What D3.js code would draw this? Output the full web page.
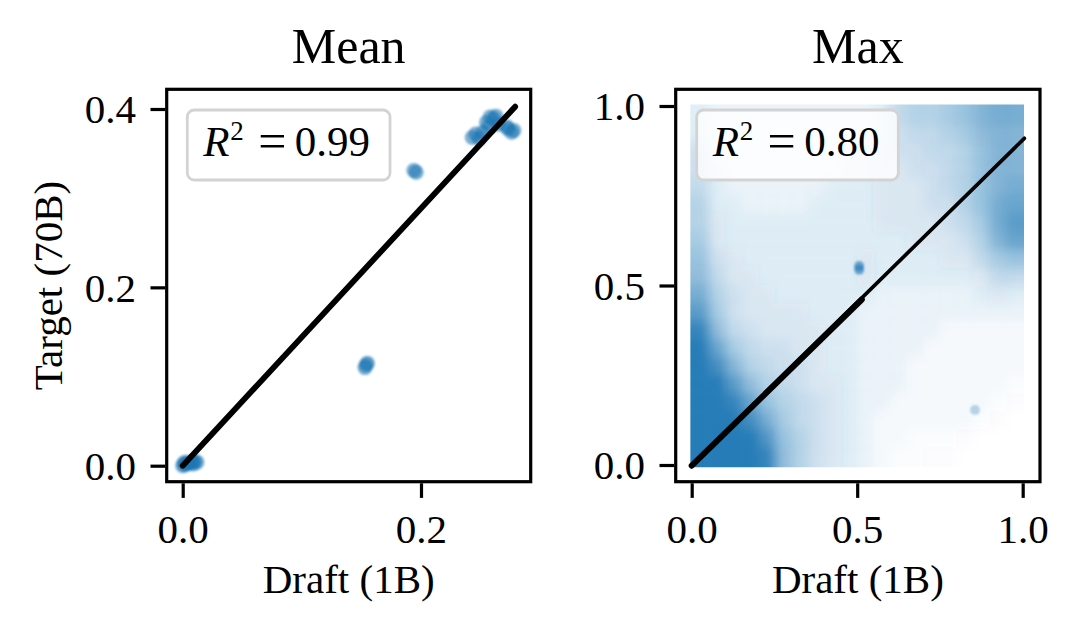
<!DOCTYPE html>
<html>
<head>
<meta charset="utf-8">
<script src="https://cdn.jsdelivr.net/npm/d3@7/dist/d3.min.js"></script>
<style>
  html, body { margin: 0; padding: 0; background: #fff; }
  svg { display: block; }
  text { font-family: "Liberation Serif", "Times New Roman", serif; fill: #000; }
</style>
</head>
<body>
<svg id="chart" width="1080" height="634"></svg>
<script>
// ---------------- DATA ----------------
// Panel 1: "Mean" — per-sample points (Draft 1B vs Target 70B)
const meanDraft  = [0.000, 0.002, 0.004, 0.006, 0.008, 0.010, 0.012, 0.003, 0.001, 0.009,
                    0.153, 0.154, 0.155,
                    0.194, 0.196,
                    0.243, 0.246, 0.249, 0.252, 0.255, 0.258, 0.261, 0.263, 0.257, 0.265,
                    0.272, 0.273, 0.276, 0.278];
const meanTarget = [0.000, 0.001, 0.002, 0.003, 0.004, 0.005, 0.004, 0.004, 0.003, 0.002,
                    0.110, 0.113, 0.115,
                    0.331, 0.329,
                    0.368, 0.372, 0.367, 0.374, 0.385, 0.391, 0.389, 0.392, 0.380, 0.383,
                    0.380, 0.378, 0.374, 0.376];
const meanFitX = [0.000, 0.279];
const meanFitY = [0.000, 0.4026];
const meanR2 = "0.99";

// Panel 2: "Max" — point density (0 = empty … 9 = solid)
// rows run from the top bin (target 0.95–1.00) down to the bottom bin (0.00–0.05)
const maxBinEdges = [0.00, 0.05, 0.10, 0.15, 0.20, 0.25, 0.30, 0.35, 0.40, 0.45, 0.50,
                     0.55, 0.60, 0.65, 0.70, 0.75, 0.80, 0.85, 0.90, 0.95, 1.00];
const maxDensity = [
  [1.5,1,1,1,1,1,1,1,1,1,1,1.5,3,3.5,3.5,4,4.5,5.5,6,6],
  [1.5,1,1,1,1,1,1,1,1,1,1,1.5,2.5,3,3,3.5,4,5,5.5,5.5],
  [2.5,1,1,1,1,1,1,1,1,1.5,1.5,2,2.5,2.5,3,3,3.5,4.5,5.5,5.5],
  [2.5,1.5,1,1,1,1,1,1,1,1.5,1.5,2,2,2.5,2.5,3,3.5,4.5,5.5,5.5],
  [3,1.5,1,1,1,1,1,1,1.5,1.5,1.5,2,2,2,2.5,3,3.5,4.5,5.5,6],
  [3.5,1.5,1.5,1,1,1,1,1.5,1.5,1.5,1.5,2,2,2,2.5,2.5,3.5,4.5,6,6.5],
  [3.5,2,1.5,1.5,1.5,1.5,1.5,1.5,1.5,1.5,1.5,2,2,2,2,2.5,3,4,6,7],
  [4,2,1.5,1.5,1.5,1.5,1.5,1.5,1.5,1.5,1.5,1.5,1.5,2,2,2,2.5,3.5,5.5,6.5],
  [4.5,2.5,2,1.5,1.5,1.5,1.5,1.5,1.5,1.5,2,1.5,1.5,1.5,1.5,2,2,3,4,4.5],
  [5,3,2,2,1.5,1.5,1.5,1.5,1.5,1.5,2,1.5,1.5,1.5,1.5,1.5,1.5,2,3,3],
  [6,3.5,2.5,2,2,1.5,1.5,1.5,1.5,1.5,1.5,1,1,1,1,1,1,1.5,2,1.5],
  [7,4,2.5,2,2,2,2,1.5,1.5,1.5,1,1,1,1,1,1,1,1,1,1],
  [8.5,5,3,2.5,2,2,2,2,1.5,1.5,1,1,1,1,1,0.5,0.5,0.5,0.5,0.5],
  [9,6.5,4,3,2.5,2.5,2,2,1.5,1.5,1,1,1,1,0.5,0.5,0.5,0.5,0.5,0.5],
  [9,8,5.5,3.5,3,2.5,2.5,2,1.5,1.5,1,1,1,0.5,0.5,0.5,0.5,0.5,0.5,0.5],
  [9,9,7,5,3.5,3,2.5,2,2,1.5,1,1,1,0.5,0.5,0.5,0.5,0.5,0.5,0.3],
  [9,9,8.5,6.5,4.5,3.5,3,2.5,2,1.5,1,1,0.5,0.5,0.5,0.5,0.5,0.5,0.3,0.2],
  [9,9,9,8,6,4,3,2.5,2,1.5,1,0.5,0.5,0.5,0.5,0.5,0.5,0.3,0.2,0],
  [9,9,9,9,7.5,4.5,3.5,2.5,2,1.5,1,0.5,0.5,0.3,0.3,0.3,0.2,0,0,0],
  [9,9,9,9,8.5,5,3.5,2.5,2,1.5,1,0.5,0.3,0.3,0.2,0.2,0,0,0,0]
];
const maxSpotX = [0.506, 0.506, 0.856];
const maxSpotY = [0.544, 0.554, 0.153];
const maxSpotAlpha = [0.6, 0.6, 0.3];
const maxFitX = [0.000, 1.005];          // thin full fit line
const maxFitY = [0.000, 0.910];
const maxFitThickX = [0.000, 0.514];     // thicker lower part
const maxFitThickY = [-0.002, 0.461];
const maxR2 = "0.80";

// ticks
const meanXTicks = [0.0, 0.2];
const meanYTicks = [0.0, 0.2, 0.4];
const maxXTicks  = [0.0, 0.5, 1.0];
const maxYTicks  = [0.0, 0.5, 1.0];

const titles = ["Mean", "Max"];
const xLabel = "Draft (1B)";
const yLabel = "Target (70B)";

// ---------------- DRAW ----------------
const svg = d3.select("#chart");
const blue = "#1f77b4";
const fmt = d3.format(".1f");
const TICK = 14.6, PAD = 14.6, LW = 3.2;
const FS = 41;

const defs = svg.append("defs");
defs.append("filter").attr("id", "soft")
  .attr("x", "-50%").attr("y", "-50%").attr("width", "200%").attr("height", "200%")
  .append("feGaussianBlur").attr("stdDeviation", 0.9);
defs.append("filter").attr("id", "dens")
  .attr("filterUnits", "userSpaceOnUse")
  .attr("x", 600).attr("y", 0).attr("width", 480).attr("height", 634)
  .append("feGaussianBlur").attr("stdDeviation", 5.5);

// Panel geometry
const P1 = {left: 166.7, right: 530.7, top: 89.3, bottom: 481.7};
const P2 = {left: 675.7, right: 1040.0, top: 89.3, bottom: 481.7};

const x1 = d3.scaleLinear().domain([-0.01343, 0.29207]).range([P1.left, P1.right]);
const y1 = d3.scaleLinear().domain([-0.01794, 0.42209]).range([P1.bottom, P1.top]);
const x2 = d3.scaleLinear().domain([-0.04834, 1.0523]).range([P2.left, P2.right]);
const y2 = d3.scaleLinear().domain([-0.04652, 1.04652]).range([P2.bottom, P2.top]);

function legend(R2, lx0, lx1) {
  const ly0 = 110, ly1 = 180;
  svg.append("rect")
    .attr("x", lx0).attr("y", ly0).attr("width", lx1 - lx0).attr("height", ly1 - ly0)
    .attr("rx", 7).attr("ry", 7)
    .attr("fill", "#fff").attr("fill-opacity", 0.8)
    .attr("stroke", "#d3d3d3").attr("stroke-width", 2.8);
  const base = 155.5;
  svg.append("text").attr("x", lx0 + 16).attr("y", base)
    .attr("font-size", 43).attr("font-style", "italic").text("R");
  svg.append("text").attr("x", lx0 + 43).attr("y", base - 16)
    .attr("font-size", 27).text("2");
  svg.append("text").attr("x", lx0 + 85).attr("y", base + 2.5)
    .attr("text-anchor", "middle").attr("font-size", 50).text("=");
  svg.append("text").attr("x", lx0 + 107.5).attr("y", base)
    .attr("font-size", 43).text(R2);
}

function frameAndAxes(P, xs, ys, xt, yt, title, withYLabel) {
  svg.append("rect")
    .attr("x", P.left).attr("y", P.top)
    .attr("width", P.right - P.left).attr("height", P.bottom - P.top)
    .attr("fill", "none").attr("stroke", "#000").attr("stroke-width", LW);

  const gx = svg.append("g").attr("transform", `translate(0,${P.bottom + LW / 2})`)
    .call(d3.axisBottom(xs).tickValues(xt).tickFormat(fmt).tickSize(TICK).tickPadding(PAD - 2));
  const gy = svg.append("g").attr("transform", `translate(${P.left - LW / 2},0)`)
    .call(d3.axisLeft(ys).tickValues(yt).tickFormat(fmt).tickSize(TICK).tickPadding(PAD));
  [gx, gy].forEach(g => {
    g.select(".domain").remove();
    g.selectAll(".tick line").attr("stroke", "#000").attr("stroke-width", LW);
    g.selectAll(".tick text")
      .attr("font-family", "Liberation Serif, Times New Roman, serif")
      .attr("font-size", FS).attr("fill", "#000");
  });
  gy.selectAll(".tick text").attr("dy", "0.34em");
  gx.selectAll(".tick text").attr("dy", "0.80em");

  const cx = (P.left + P.right) / 2;
  svg.append("text").attr("x", cx).attr("y", 63)
    .attr("text-anchor", "middle").attr("font-size", 50).text(title);
  svg.append("text").attr("x", cx).attr("y", 593)
    .attr("text-anchor", "middle").attr("font-size", FS).text(xLabel);
  if (withYLabel) {
    const cy = (P.top + P.bottom) / 2;
    svg.append("text")
      .attr("transform", `translate(62,${cy}) rotate(-90)`)
      .attr("text-anchor", "middle").attr("font-size", FS).text(yLabel);
  }
}

// ---- Panel 1: Mean ----
svg.append("g").attr("filter", "url(#soft)")
  .selectAll("circle").data(meanDraft.map((d, i) => [d, meanTarget[i]]))
  .join("circle")
  .attr("cx", d => x1(d[0])).attr("cy", d => y1(d[1]))
  .attr("r", 7.5).attr("fill", blue).attr("fill-opacity", 0.58);

svg.append("line")
  .attr("x1", x1(meanFitX[0])).attr("y1", y1(meanFitY[0]))
  .attr("x2", x1(meanFitX[1])).attr("y2", y1(meanFitY[1]))
  .attr("stroke", "#000").attr("stroke-width", 5.8).attr("stroke-linecap", "round");

legend(meanR2, 187.3, 390);
frameAndAxes(P1, x1, y1, meanXTicks, meanYTicks, titles[0], true);

// ---- Panel 2: Max ----
defs.append("clipPath").attr("id", "unitClip").append("rect")
  .attr("x", x2(-0.004)).attr("y", y2(1.004))
  .attr("width", x2(1.004) - x2(-0.004)).attr("height", y2(-0.006) - y2(1.004));

const nb = maxBinEdges.length - 1;
const cells = [];
maxDensity.forEach((row, ri) => {
  const yi = nb - 1 - ri; // bin index from bottom
  row.forEach((v, ci) => {
    const xa = ci === 0 ? -0.1 : maxBinEdges[ci];
    const xb = ci === nb - 1 ? 1.1 : maxBinEdges[ci + 1];
    const ya = yi === 0 ? -0.1 : maxBinEdges[yi];
    const yb = yi === nb - 1 ? 1.1 : maxBinEdges[yi + 1];
    cells.push({xa, xb, ya, yb, v});
  });
});
const densOpacity = d3.scalePow().exponent(1.15).domain([0, 9]).range([0, 0.96]);
svg.append("g").attr("clip-path", "url(#unitClip)")
  .append("g").attr("filter", "url(#dens)")
  .selectAll("rect").data(cells).join("rect")
  .attr("x", d => x2(d.xa)).attr("y", d => y2(d.yb))
  .attr("width", d => x2(d.xb) - x2(d.xa) + 0.5)
  .attr("height", d => y2(d.ya) - y2(d.yb) + 0.5)
  .attr("fill", blue).attr("fill-opacity", d => densOpacity(d.v));

svg.append("g").attr("filter", "url(#soft)")
  .selectAll("circle").data(maxSpotX.map((d, i) => [d, maxSpotY[i], maxSpotAlpha[i]]))
  .join("circle")
  .attr("cx", d => x2(d[0])).attr("cy", d => y2(d[1]))
  .attr("r", 5)
  .attr("fill", blue).attr("fill-opacity", d => d[2]);

svg.append("line")
  .attr("x1", x2(maxFitX[0])).attr("y1", y2(maxFitY[0]))
  .attr("x2", x2(maxFitX[1])).attr("y2", y2(maxFitY[1]))
  .attr("stroke", "#000").attr("stroke-width", 3.7).attr("stroke-linecap", "round");
svg.append("line")
  .attr("x1", x2(maxFitThickX[0])).attr("y1", y2(maxFitThickY[0]))
  .attr("x2", x2(maxFitThickX[1])).attr("y2", y2(maxFitThickY[1]))
  .attr("stroke", "#000").attr("stroke-width", 6).attr("stroke-linecap", "round");

legend(maxR2, 696.7, 898.3);
frameAndAxes(P2, x2, y2, maxXTicks, maxYTicks, titles[1], false);
</script>
</body>
</html>
